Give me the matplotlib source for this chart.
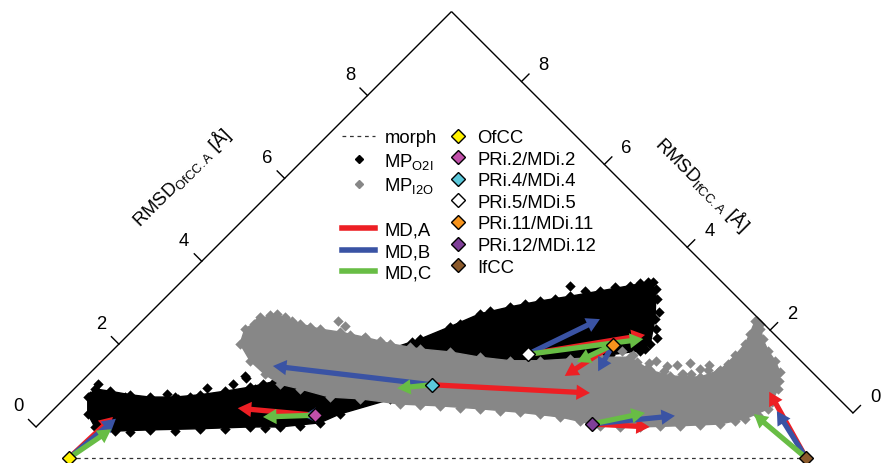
import numpy as np
import matplotlib
matplotlib.use("Agg")
import matplotlib.pyplot as plt
from matplotlib.lines import Line2D
from matplotlib.patches import FancyArrow

plt.rcParams['font.family'] = ['Liberation Sans', 'DejaVu Sans']
plt.rcParams['mathtext.fontset'] = 'custom'
plt.rcParams['mathtext.rm'] = 'Liberation Sans'
plt.rcParams['mathtext.it'] = 'Liberation Sans:italic'
plt.rcParams['mathtext.bf'] = 'Liberation Sans:bold'

# ---------------- data (plot plane, Angstrom) ----------------
# reference structures
struct_names = ["OfCC", "PRi.2/MDi.2", "PRi.4/MDi.4", "PRi.5/MDi.5",
                "PRi.11/MDi.11", "PRi.12/MDi.12", "IfCC"]
struct_colors = ["#FFF200", "#C150AA", "#5BC8DA", "#FFFFFF",
                 "#F7941D", "#7F3F98", "#8B5A2B"]
struct_x = [0.00, 4.20, 6.19, 7.83, 9.28, 8.92, 12.58]
struct_y = [0.00, 0.73, 1.25, 1.77, 1.93, 0.58, 0.00]

# MD run end points (A, B, C) for each starting structure
md_names = ["MD,A", "MD,B", "MD,C"]
md_colors = ["#ED1F24", "#3A53A4", "#68BD45"]
mdA_x = [0.75, 2.88, 8.89, 9.83, 8.46, 9.91, 11.95]
mdA_y = [0.70, 0.85, 1.11, 2.10, 1.40, 0.53, 1.13]
mdB_x = [0.80, 3.99, 3.48, 9.06, 9.03, 10.34, 12.08]
mdB_y = [0.67, 0.72, 1.57, 2.37, 1.48, 0.72, 0.80]
mdC_x = [0.72, 3.31, 5.60, 9.80, 8.67, 9.83, 11.69]
mdC_y = [0.49, 0.70, 1.19, 2.03, 1.64, 0.77, 0.75]

# morph path OfCC -> IfCC
morph_x = [0.00, 12.58]
morph_y = [0.00, 0.00]

# MP_O2I cloud (outline) and edge / isolated points
o2i_x = [0.32, 0.44, 0.70, 1.04, 1.38, 1.81, 2.24, 2.66, 3.09, 3.52, 3.94, 4.45,
         4.97, 5.48, 5.99, 6.50, 7.01, 7.53, 8.04, 8.55, 9.06, 9.57, 9.88, 10.02,
         10.00, 9.92, 9.74, 9.23, 8.72, 8.21, 7.70, 6.50, 5.48, 4.62, 4.28, 3.60,
         3.09, 2.24, 1.38, 0.79, 0.44, 0.32]
o2i_y = [1.04, 1.18, 1.14, 1.08, 1.04, 1.04, 1.08, 1.14, 1.21, 1.31, 1.43, 1.60,
         1.72, 1.86, 2.03, 2.24, 2.46, 2.58, 2.68, 2.76, 2.85, 2.94, 3.00, 2.88,
         2.37, 1.95, 1.83, 1.76, 1.69, 1.62, 1.57, 1.26, 1.00, 0.75, 0.60, 0.53,
         0.53, 0.50, 0.48, 0.46, 0.53, 0.75]
o2i_px = [0.50, 0.36, 0.67, 0.96, 1.67, 1.86, 2.36, 2.80, 3.00, 3.02, 5.61, 5.85,
          8.55, 9.86, 9.97, 8.38, 8.07, 7.44, 2.53, 0.78, 1.21, 2.06, 3.17, 3.31,
          3.60, 1.04, 1.81, 2.66, 3.34, 3.94, 6.67, 7.18, 7.78, 8.29, 8.81, 9.32,
          9.74, 10.03, 10.02, 9.83, 10.06, 10.04]
o2i_py = [1.26, 1.06, 1.09, 1.04, 1.09, 1.00, 1.20, 1.26, 1.40, 1.37, 1.80, 1.98,
          2.94, 2.97, 3.00, 2.63, 2.49, 2.32, 1.00, 1.01, 0.97, 1.04, 1.18, 1.26,
          1.38, 0.44, 0.46, 0.49, 0.51, 0.55, 2.29, 2.51, 2.63, 2.71, 2.85, 2.92,
          2.99, 2.71, 2.20, 1.86, 2.50, 2.05]

# MP_I2O cloud (outline) and edge / isolated points
i2o_x = [2.92, 3.00, 3.23, 3.43, 3.69, 3.94, 4.28, 4.62, 5.05, 5.48, 5.99, 6.50,
         7.01, 7.53, 8.04, 8.55, 9.06, 9.57, 9.91, 10.26, 10.77, 11.11, 11.37,
         11.54, 11.62, 11.71, 11.79, 11.84, 11.93, 12.05, 12.13, 12.10, 11.93,
         11.54, 11.11, 10.43, 9.74, 9.06, 8.38, 7.70, 7.01, 6.33, 5.65, 4.97,
         4.45, 3.94, 3.60, 3.34, 3.09]
i2o_y = [1.95, 2.20, 2.34, 2.44, 2.41, 2.29, 2.20, 2.15, 2.06, 1.95, 1.86, 1.81,
         1.72, 1.66, 1.66, 1.69, 1.72, 1.72, 1.50, 1.40, 1.38, 1.50, 1.75,
         1.95, 2.12, 2.34, 2.29, 2.03, 1.83, 1.66, 1.47, 1.18, 0.84,
         0.67, 0.58, 0.55, 0.53, 0.55, 0.70, 0.78, 0.84, 0.89, 0.92, 1.01,
         1.04, 1.18, 1.26, 1.43, 1.66]
i2o_px = [3.15, 3.55, 4.59, 4.71, 5.02, 9.44, 9.63, 10.02, 10.20, 10.46, 9.35,
          9.69, 10.38, 10.48, 10.77, 11.08, 3.26, 3.81, 4.11, 4.80, 5.31, 5.82,
          5.99, 6.67, 7.35, 8.04, 8.72, 9.40, 10.09, 10.77, 11.37, 11.76, 12.12,
          12.00, 11.74, 11.79, 11.76, 10.60, 11.25, 9.84, 10.15, 10.62, 10.93,
          11.25, 11.45, 9.90, 10.90]
i2o_py = [2.29, 2.46, 2.33, 2.25, 2.03, 1.83, 1.76, 1.65, 1.57, 1.43, 1.57,
          1.64, 1.59, 1.43, 1.52, 1.47, 2.41, 2.34, 2.24, 2.10, 2.00, 1.89,
          0.90, 0.85, 0.80, 0.75, 0.63, 0.53, 0.55, 0.56, 0.63, 0.73, 1.31,
          0.96, 2.34, 2.20, 2.03, 1.62, 1.60, 1.52, 1.48, 1.43, 1.59,
          1.55, 1.72, 1.62, 1.50]

# ruler ticks
tick_vals = [0, 2, 4, 6, 8]

# ---------------- styles / layout ----------------
BLACK = "#000000"
GRAY = "#878787"
ANG = "\u00c5"
FS = 13.3

fig = plt.figure(figsize=(8.81, 4.64), dpi=100)
ax = fig.add_axes([0, 0, 1, 1])
ax.set_xlim(-1.1775, 13.857)
ax.set_ylim(-0.0853, 7.833)
ax.axis('off')

# clouds
ax.fill(o2i_x, o2i_y, color=BLACK, lw=1.0, zorder=1)
ax.scatter(o2i_x + o2i_px, o2i_y + o2i_py, marker='D', s=28, c=BLACK,
           lw=0, zorder=1)
ax.fill(i2o_x, i2o_y, color=GRAY, lw=1.0, zorder=2)
ax.scatter(i2o_x + i2o_px, i2o_y + i2o_py, marker='D', s=28, c=GRAY,
           lw=0, zorder=2)

# morph
ax.plot(morph_x, morph_y, ls=(0, (3.0, 3.0)), color='#333333', lw=0.9, zorder=3)

# MD arrows
for ends_x, ends_y, col in zip([mdA_x, mdB_x, mdC_x], [mdA_y, mdB_y, mdC_y],
                               md_colors):
    for sx, sy, ex, ey in zip(struct_x, struct_y, ends_x, ends_y):
        ax.add_patch(FancyArrow(sx, sy, ex - sx, ey - sy, width=0.09,
                                head_width=0.26, head_length=0.23,
                                length_includes_head=True, color=col,
                                lw=0, zorder=4))

# structures
for x, y, c in zip(struct_x, struct_y, struct_colors):
    ax.plot([x], [y], marker='D', ms=7.2, mfc=c, mec='black', mew=1.0,
            ls='none', zorder=6, clip_on=False)

# rulers
L0 = np.array([-0.563, 0.529])
R0 = np.array([13.379, 0.768])
apex = np.array([6.527, 7.619])
u = np.array([1.0, 1.0]) / np.sqrt(2)
v = np.array([-1.0, 1.0]) / np.sqrt(2)
for origin, d, nrm, loff in [(L0, u, v, np.array([-0.30, 0.36])),
                             (R0, v, u, np.array([0.38, 0.29]))]:
    ax.plot([origin[0], apex[0]], [origin[1], apex[1]], color='black', lw=1.0,
            solid_capstyle='butt', zorder=5)
    for t in tick_vals:
        p = origin + t * d
        q = p + 0.18 * nrm
        ax.plot([p[0], q[0]], [p[1], q[1]], color='black', lw=1.0, zorder=5)
        ax.text(p[0] + loff[0], p[1] + loff[1], str(t), fontsize=FS,
                ha='center', va='center')

ax.text(1.93, 4.81, r"RMSD$_{\mathregular{OfCC.A}}$ [" + ANG + "]", fontsize=FS,
        rotation=45, ha='center', va='center', rotation_mode='anchor')
ax.text(10.80, 4.69, r"RMSD$_{\mathregular{IfCC.A}}$ [" + ANG + "]", fontsize=FS,
        rotation=-45, ha='center', va='center', rotation_mode='anchor')

# legends
h1 = [Line2D([], [], ls=(0, (3.0, 3.0)), color='#333333', lw=0.9),
      Line2D([], [], marker='D', ls='none', color=BLACK, ms=4),
      Line2D([], [], marker='D', ls='none', color=GRAY, ms=4),
      Line2D([], [], ls='none'),
      Line2D([], [], color=md_colors[0], lw=4),
      Line2D([], [], color=md_colors[1], lw=4),
      Line2D([], [], color=md_colors[2], lw=4)]
l1 = ["morph", r"MP$_{\mathregular{O2I}}$", r"MP$_{\mathregular{I2O}}$", " "] + md_names
leg1 = fig.legend(h1, l1, loc='upper left', bbox_to_anchor=(342 / 881, 1 - 130 / 464),
                  frameon=False, fontsize=FS, handlelength=1.8, handletextpad=0.5,
                  borderpad=0, borderaxespad=0, labelspacing=0.25)
h2 = [Line2D([], [], marker='D', ls='none', ms=7.2, mfc=c, mec='black', mew=1.0)
      for c in struct_colors]
leg2 = fig.legend(h2, struct_names, loc='upper left',
                  bbox_to_anchor=(448 / 881, 1 - 130 / 464),
                  frameon=False, fontsize=FS, handlelength=1.1, handletextpad=0.5,
                  borderpad=0, borderaxespad=0, labelspacing=0.25)

fig.savefig("out.png", dpi=100)
